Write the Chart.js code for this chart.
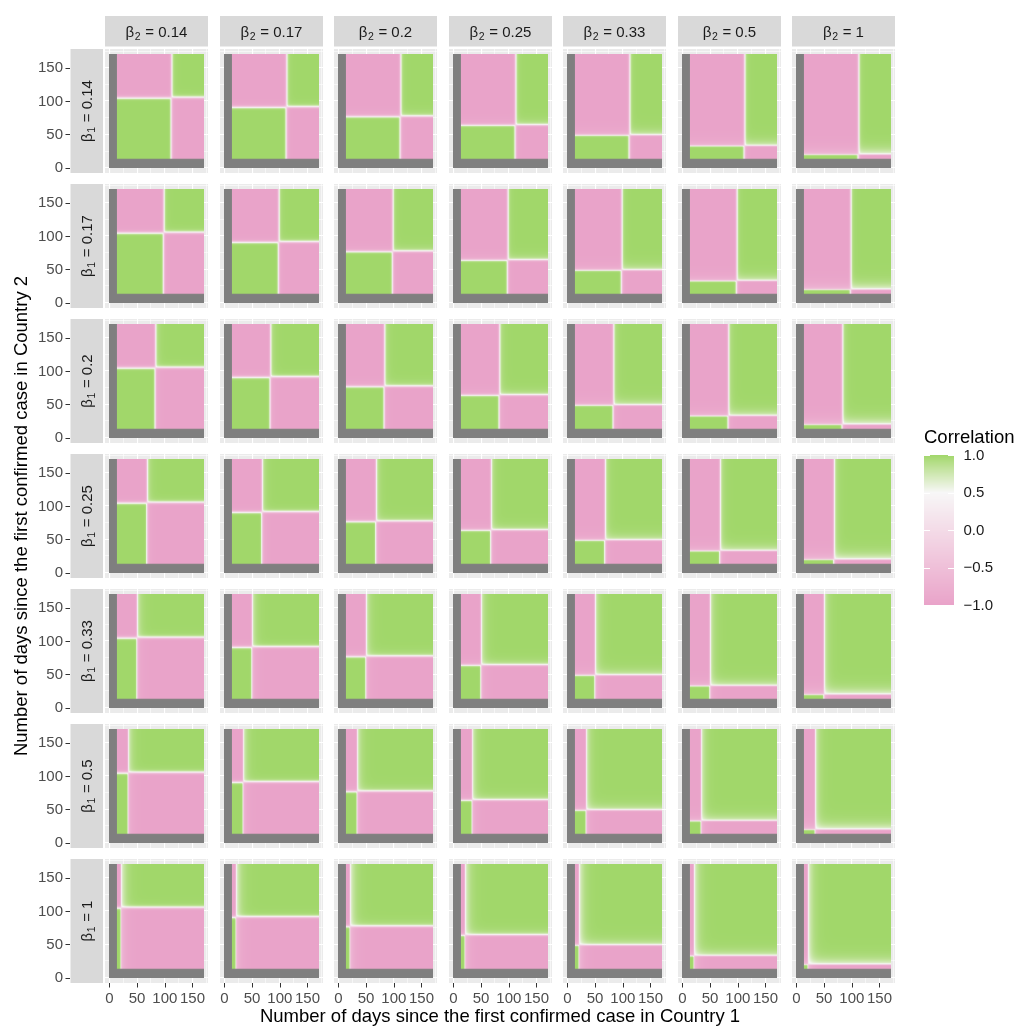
<!DOCTYPE html>
<html>
<head>
<meta charset="utf-8">
<script src="https://cdn.jsdelivr.net/npm/chart.js@4/dist/chart.umd.min.js"></script>
<style>
  html, body { margin: 0; padding: 0; background: #ffffff; }
  #fig { position: relative; width: 1019px; height: 1028px; overflow: hidden; background: #ffffff; }
  #fig canvas { position: absolute; }
</style>
</head>
<body>
<div id="fig"></div>
<script>
// ---- values ----------------------------------------------------------------
// transmission rates used for the facet rows (country 1) and columns (country 2)
const betaLabels = ['0.14', '0.17', '0.2', '0.25', '0.33', '0.5', '1'];
// day of the epidemic peak for each beta, per country
const peakDayCountry1 = [112, 98, 83, 68, 50, 34, 21];
const peakDayCountry2 = [105, 91, 77, 64, 49, 33, 20];
// width (days) of the sign change of the correlation at the peak, per beta
const switchDays = [2.0, 1.9, 1.8, 1.6, 1.4, 1.2, 1.0];
// weakening of the correlation just after the peak and how long it lasts (days), per beta
const postPeakDip = [0.15, 0.15, 0.2, 0.25, 0.3, 0.35, 0.45];
const postPeakDays = [4, 4, 5, 5, 6, 6, 7];
// observation window (days before firstObservedDay have no value)
const firstObservedDay = 14;
const lastDay = 170;
// axis ticks
const dayTicks = [0, 50, 100, 150];
const gridDays = [0, 25, 50, 75, 100, 125, 150, 175];
const legendTicks = [1, 0.5, 0, -0.5, -1];
const legendTickLabels = ['1.0', '0.5', '0.0', '\u22120.5', '\u22121.0'];

// ---- styling ---------------------------------------------------------------
const COLOR_LOW = '#E9A3C9', COLOR_MID = '#F7F7F7', COLOR_HIGH = '#A1D76A';
const COLOR_MIDPOINT = 0.5;
const NA_RGB = [127, 127, 127];
const FONT = '"Liberation Sans", Arial, sans-serif';
const PANEL_W = 103, PANEL_H = 124;
const colLeft = c => 105 + Math.round(114.5 * c);
const rowTop = r => 49 + 135 * r;
const NROW = betaLabels.length, NCOL = betaLabels.length;

// ---- colour scale (interpolated in CIE Lab) --------------------------------
function hexToRgb(h) { return [1, 3, 5].map(i => parseInt(h.slice(i, i + 2), 16)); }
function toLin(c) { c /= 255; return c <= 0.04045 ? c / 12.92 : Math.pow((c + 0.055) / 1.055, 2.4); }
function fromLin(c) {
  const v = c <= 0.0031308 ? 12.92 * c : 1.055 * Math.pow(c, 1 / 2.4) - 0.055;
  return Math.round(Math.max(0, Math.min(1, v)) * 255);
}
function rgbToLab(rgb) {
  const [R, G, B] = rgb.map(toLin);
  const X = (0.4124 * R + 0.3576 * G + 0.1805 * B) / 0.95047;
  const Y = (0.2126 * R + 0.7152 * G + 0.0722 * B);
  const Z = (0.0193 * R + 0.1192 * G + 0.9505 * B) / 1.08883;
  const f = t => t > 0.008856 ? Math.cbrt(t) : 7.787 * t + 16 / 116;
  const fx = f(X), fy = f(Y), fz = f(Z);
  return [116 * fy - 16, 500 * (fx - fy), 200 * (fy - fz)];
}
function labToRgb(lab) {
  const fy = (lab[0] + 16) / 116, fx = fy + lab[1] / 500, fz = fy - lab[2] / 200;
  const inv = t => (t * t * t > 0.008856) ? t * t * t : (t - 16 / 116) / 7.787;
  const X = inv(fx) * 0.95047, Y = inv(fy), Z = inv(fz) * 1.08883;
  return [
    fromLin(3.2406 * X - 1.5372 * Y - 0.4986 * Z),
    fromLin(-0.9689 * X + 1.8758 * Y + 0.0415 * Z),
    fromLin(0.0557 * X - 0.2040 * Y + 1.0570 * Z)
  ];
}
const LAB_LOW = rgbToLab(hexToRgb(COLOR_LOW));
const LAB_MID = rgbToLab(hexToRgb(COLOR_MID));
const LAB_HIGH = rgbToLab(hexToRgb(COLOR_HIGH));
const LUT_N = 2000;
const colorLut = [];
for (let i = 0; i <= LUT_N; i++) {
  const v = -1 + 2 * i / LUT_N;
  let a, b, t;
  if (v >= COLOR_MIDPOINT) { a = LAB_MID; b = LAB_HIGH; t = (v - COLOR_MIDPOINT) / (1 - COLOR_MIDPOINT); }
  else { a = LAB_MID; b = LAB_LOW; t = (COLOR_MIDPOINT - v) / (COLOR_MIDPOINT + 1); }
  colorLut.push(labToRgb([0, 1, 2].map(k => a[k] + (b[k] - a[k]) * t)));
}
function colorFor(v) {
  const i = Math.round((Math.max(-1, Math.min(1, v)) + 1) / 2 * LUT_N);
  return colorLut[i];
}

// ---- correlation field -----------------------------------------------------
// growth phase of one country on a given day: -1 before its peak, +1 after,
// slightly weaker for a short while after the peak
function phaseCurve(peak, width, dip, settle) {
  const out = [];
  for (let d = 0; d <= lastDay; d++) {
    const off = d - peak;
    const sign = Math.tanh(off / width);
    const strength = off > 0 ? 1 - dip * Math.exp(-off / settle) : 1;
    out.push(sign * strength);
  }
  return out;
}
const phase1 = betaLabels.map((_, i) => phaseCurve(peakDayCountry1[i], switchDays[i], postPeakDip[i], postPeakDays[i]));
const phase2 = betaLabels.map((_, i) => phaseCurve(peakDayCountry2[i], switchDays[i], postPeakDip[i], postPeakDays[i]));

function buildTiles(r, c) {
  const n = lastDay + 1;
  const cv = document.createElement('canvas');
  cv.width = n; cv.height = n;
  const g = cv.getContext('2d');
  const img = g.createImageData(n, n);
  const fx = phase1[r], fy = phase2[c];
  for (let yd = 0; yd < n; yd++) {
    const row = lastDay - yd;
    for (let xd = 0; xd < n; xd++) {
      const rgb = (xd < firstObservedDay || yd < firstObservedDay) ? NA_RGB : colorFor(fx[xd] * fy[yd]);
      const k = (row * n + xd) * 4;
      img.data[k] = rgb[0]; img.data[k + 1] = rgb[1]; img.data[k + 2] = rgb[2]; img.data[k + 3] = 255;
    }
  }
  g.putImageData(img, 0, 0);
  return cv;
}

// ---- drawing helpers -------------------------------------------------------
function drawBetaLabel(ctx, sub, value, cx, cy, rotate) {
  ctx.save();
  ctx.translate(cx, cy);
  if (rotate) ctx.rotate(-Math.PI / 2);
  const main = '15px ' + FONT, small = '10.5px ' + FONT;
  ctx.font = main; const wB = ctx.measureText('\u03B2').width;
  ctx.font = small; const wS = ctx.measureText(sub).width;
  ctx.font = main; const rest = ' = ' + value; const wR = ctx.measureText(rest).width;
  let x = -(wB + wS + 1 + wR) / 2;
  const base = 5;
  ctx.fillStyle = '#1A1A1A';
  ctx.textAlign = 'left'; ctx.textBaseline = 'alphabetic';
  ctx.font = main; ctx.fillText('\u03B2', x, base); x += wB + 0.5;
  ctx.font = small; ctx.fillText(sub, x, base + 3.5); x += wS + 0.5;
  ctx.font = main; ctx.fillText(rest, x, base);
  ctx.restore();
}

const panelPlugin = {
  id: 'panelTiles',
  beforeDraw(chart) {
    const a = chart.chartArea, ctx = chart.ctx;
    ctx.save();
    ctx.fillStyle = '#EBEBEB';
    ctx.fillRect(a.left, a.top, a.right - a.left, a.bottom - a.top);
    ctx.restore();
  },
  beforeDatasetsDraw(chart, args, opts) {
    const xs = chart.scales.x, ys = chart.scales.y, ctx = chart.ctx;
    const tiles = buildTiles(opts.row, opts.col);
    const x0 = xs.getPixelForValue(-0.5), x1 = xs.getPixelForValue(lastDay + 0.5);
    const y0 = ys.getPixelForValue(lastDay + 0.5), y1 = ys.getPixelForValue(-0.5);
    ctx.save();
    ctx.imageSmoothingEnabled = true;
    ctx.imageSmoothingQuality = 'high';
    ctx.drawImage(tiles, x0, y0, x1 - x0, y1 - y0);
    ctx.restore();
  },
  afterDraw(chart, args, opts) {
    const a = chart.chartArea, ctx = chart.ctx;
    const xs = chart.scales.x, ys = chart.scales.y;
    ctx.save();
    if (opts.row === 0) {
      ctx.fillStyle = '#D9D9D9';
      ctx.fillRect(a.left, a.top - 33, a.right - a.left, 30.5);
      drawBetaLabel(ctx, '2', betaLabels[opts.col], (a.left + a.right) / 2, a.top - 17.5, false);
    }
    if (opts.col === 0) {
      ctx.fillStyle = '#D9D9D9';
      ctx.fillRect(a.left - 34.5, a.top, 32.5, a.bottom - a.top);
      drawBetaLabel(ctx, '1', betaLabels[opts.row], a.left - 18.5, (a.top + a.bottom) / 2, true);
      ctx.strokeStyle = '#333333'; ctx.lineWidth = 1;
      ctx.fillStyle = '#4D4D4D'; ctx.font = '15px ' + FONT;
      ctx.textAlign = 'right'; ctx.textBaseline = 'middle';
      dayTicks.forEach(v => {
        const p = ys.getPixelForValue(v);
        ctx.beginPath(); ctx.moveTo(a.left - 39.5, Math.round(p) + 0.5); ctx.lineTo(a.left - 35, Math.round(p) + 0.5); ctx.stroke();
        ctx.fillText(String(v), a.left - 42, p + 0.5);
      });
    }
    if (opts.row === NROW - 1) {
      ctx.strokeStyle = '#333333'; ctx.lineWidth = 1;
      ctx.fillStyle = '#4D4D4D'; ctx.font = '15px ' + FONT;
      ctx.textAlign = 'center'; ctx.textBaseline = 'top';
      dayTicks.forEach(v => {
        const p = xs.getPixelForValue(v);
        ctx.beginPath(); ctx.moveTo(Math.round(p) + 0.5, a.bottom); ctx.lineTo(Math.round(p) + 0.5, a.bottom + 4.5); ctx.stroke();
        ctx.fillText(String(v), p, a.bottom + 8);
      });
    }
    ctx.restore();
  }
};

function axisOptions(dir) {
  return {
    type: 'linear', min: -8, max: 178,
    ticks: { display: false },
    grid: {
      color: '#FFFFFF', drawTicks: false,
      lineWidth: ctx => (ctx.tick && ctx.tick.value % 50 === 0) ? 1.1 : 0.55
    },
    border: { display: false },
    afterBuildTicks: s => { s.ticks = gridDays.map(v => ({ value: v })); },
    afterFit: s => { if (dir === 'x') s.height = 0; else s.width = 0; }
  };
}

const fig = document.getElementById('fig');
function addCanvas(left, top, w, h) {
  const cv = document.createElement('canvas');
  cv.width = w; cv.height = h;
  cv.style.left = left + 'px'; cv.style.top = top + 'px';
  cv.style.width = w + 'px'; cv.style.height = h + 'px';
  fig.appendChild(cv);
  return cv;
}

for (let r = 0; r < NROW; r++) {
  for (let c = 0; c < NCOL; c++) {
    const pl = colLeft(c), pt = rowTop(r);
    const left = c === 0 ? 0 : pl;
    const top = r === 0 ? 0 : pt;
    const right = pl + PANEL_W;
    const bottom = r === NROW - 1 ? 1028 : pt + PANEL_H;
    const cv = addCanvas(left, top, right - left, bottom - top);
    new Chart(cv, {
      type: 'scatter',
      data: { datasets: [] },
      options: {
        responsive: false, animation: false, devicePixelRatio: 1, events: [],
        layout: { padding: { left: pl - left, top: pt - top, right: 0, bottom: bottom - (pt + PANEL_H) } },
        plugins: { legend: { display: false }, tooltip: { enabled: false }, panelTiles: { row: r, col: c } },
        scales: { x: axisOptions('x'), y: axisOptions('y') }
      },
      plugins: [panelPlugin]
    });
  }
}

// ---- axis titles and colour bar --------------------------------------------
const BAR = { left: 924, top: 455, right: 954, bottom: 605 };
const legendPlugin = {
  id: 'colourBar',
  afterDraw(chart) {
    const ctx = chart.ctx, ys = chart.scales.y, a = chart.chartArea;
    ctx.save();
    for (let p = Math.floor(a.top); p < Math.ceil(a.bottom); p++) {
      const v = ys.getValueForPixel(p + 0.5);
      const rgb = colorFor(v);
      ctx.fillStyle = 'rgb(' + rgb.join(',') + ')';
      ctx.fillRect(a.left, p, a.right - a.left, 1);
    }
    ctx.strokeStyle = '#FFFFFF'; ctx.lineWidth = 1;
    const tl = (a.right - a.left) / 5;
    legendTicks.forEach(v => {
      const p = Math.round(ys.getPixelForValue(v)) + 0.5;
      ctx.beginPath();
      ctx.moveTo(a.left, p); ctx.lineTo(a.left + tl, p);
      ctx.moveTo(a.right - tl, p); ctx.lineTo(a.right, p);
      ctx.stroke();
    });
    ctx.fillStyle = '#1A1A1A'; ctx.font = '15px ' + FONT;
    ctx.textAlign = 'left'; ctx.textBaseline = 'middle';
    legendTicks.forEach((v, i) => ctx.fillText(legendTickLabels[i], a.right + 9.5, ys.getPixelForValue(v) + 0.5));
    ctx.fillStyle = '#000000'; ctx.font = '18.5px ' + FONT;
    ctx.fillText('Correlation', a.left, 438);
    ctx.textAlign = 'center';
    const midX = (colLeft(0) + colLeft(NCOL - 1) + PANEL_W) / 2;
    ctx.fillText('Number of days since the first confirmed case in Country 1', midX, 1017);
    ctx.save();
    ctx.translate(22, (rowTop(0) + rowTop(NROW - 1) + PANEL_H) / 2);
    ctx.rotate(-Math.PI / 2);
    ctx.fillText('Number of days since the first confirmed case in Country 2', 0, 0);
    ctx.restore();
    ctx.restore();
  }
};
const overlay = addCanvas(0, 0, 1019, 1028);
new Chart(overlay, {
  type: 'scatter',
  data: { datasets: [] },
  options: {
    responsive: false, animation: false, devicePixelRatio: 1, events: [],
    layout: { padding: { left: BAR.left, top: BAR.top, right: 1019 - BAR.right, bottom: 1028 - BAR.bottom } },
    plugins: { legend: { display: false }, tooltip: { enabled: false } },
    scales: {
      x: { display: false, min: 0, max: 1 },
      y: { display: false, min: -1, max: 1 }
    }
  },
  plugins: [legendPlugin]
});
</script>
</body>
</html>
